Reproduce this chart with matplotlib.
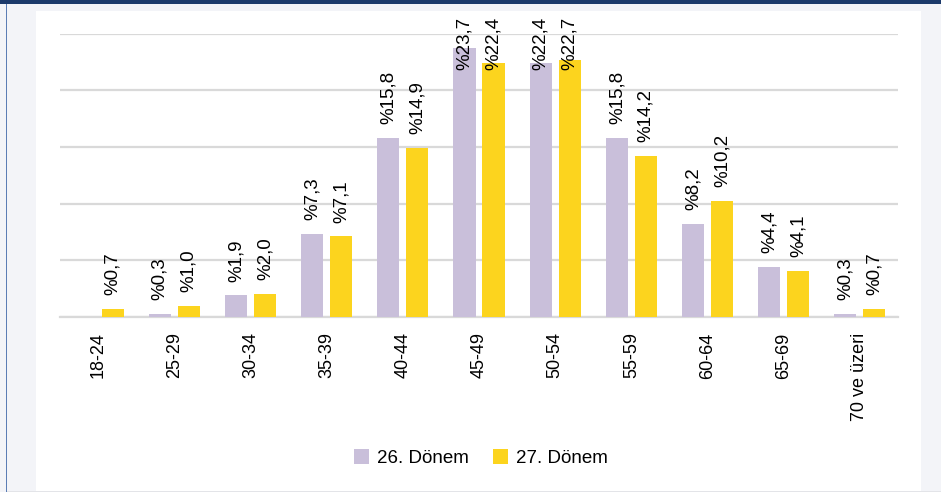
import matplotlib
matplotlib.use("Agg")
import matplotlib.pyplot as plt
import numpy as np
from matplotlib.patches import Rectangle

plt.rcParams['font.family'] = ['Liberation Sans', 'DejaVu Sans']

categories = ['18-24', '25-29', '30-34', '35-39', '40-44', '45-49', '50-54',
              '55-59', '60-64', '65-69', '70 ve üzeri']
donem26 = [np.nan, 0.3, 1.9, 7.3, 15.8, 23.7, 22.4, 15.8, 8.2, 4.4, 0.3]
donem27 = [0.7, 1.0, 2.0, 7.1, 14.9, 22.4, 22.7, 14.2, 10.2, 4.1, 0.7]
series_names = ['26. Dönem', '27. Dönem']

C26 = "#C9BFDA"
C27 = "#FCD41E"
W, H = 941, 492

fig = plt.figure(figsize=(W / 100, H / 100), dpi=100)
fig.patch.set_facecolor("#F3F4F8")
# white panel, top navy strip, left blue rule, bottom rule
fig.add_artist(Rectangle((36 / W, 0 / H), (921 - 36) / W, (481 - 0) / H,
                         transform=fig.transFigure, fc="white", ec="none", zorder=0))
fig.add_artist(Rectangle((0, 1 - 3.5 / H), 1, 3.5 / H, transform=fig.transFigure,
                         fc="#1C3A6B", ec="none", zorder=1))
fig.add_artist(Rectangle((5.5 / W, 0), 1.6 / W, 1 - 3.5 / H, transform=fig.transFigure,
                         fc="#5B7DB5", ec="none", zorder=1))
fig.add_artist(Rectangle((7 / W, 0), 1 - 7 / W, 1.5 / H, transform=fig.transFigure,
                         fc="#E3E4E8", ec="none", zorder=1))

ax = fig.add_axes([60 / W, 1 - 317 / H, (898 - 60) / W, (317 - 33.5) / H])
ax.set_facecolor("none")
x = np.arange(len(categories))
bw = 0.29
off = 0.19
b1 = ax.bar(x - off, donem26, bw, color=C26, label=series_names[0], zorder=3)
b2 = ax.bar(x + off, donem27, bw, color=C27, label=series_names[1], zorder=3)

# labels that would run past the top of the panel are pulled down (as Excel does)
label_cap = 20.6
for xs, vals in ((x - off, donem26), (x + off, donem27)):
    for xi, v in zip(xs, vals):
        if np.isnan(v):
            continue
        ax.annotate("%" + f"{v:.1f}".replace(".", ","), (xi, min(v, label_cap)),
                    xytext=(0, 10), textcoords="offset points", rotation=90,
                    ha="center", va="bottom", fontsize=13.5, color="black",
                    annotation_clip=False, zorder=5)

ax.set_xlim(-0.5, len(categories) - 0.5)
ax.set_ylim(0, 25)
ax.set_yticks([0, 5, 10, 15, 20, 25])
ax.yaxis.grid(True, color="#D9D9D9", lw=1.6, zorder=0)
ax.tick_params(axis="y", left=False, labelleft=False)
ax.set_xticks(x)
ax.set_xticklabels(categories, rotation=90, fontsize=13, va="top")
ax.tick_params(axis="x", length=0, pad=11)
for sp in ("top", "right", "left"):
    ax.spines[sp].set_visible(False)
ax.spines["bottom"].set_color("#D9D9D9")
ax.spines["bottom"].set_linewidth(1.6)

fig.legend(handles=[b1, b2], labels=series_names, loc="center",
           bbox_to_anchor=(481 / W, 1 - 458 / H), ncol=2, frameon=False,
           fontsize=13.5, handlelength=0.8, handleheight=0.8, handletextpad=0.4,
           columnspacing=1.3)

fig.savefig("out.png", dpi=100, facecolor=fig.get_facecolor())
